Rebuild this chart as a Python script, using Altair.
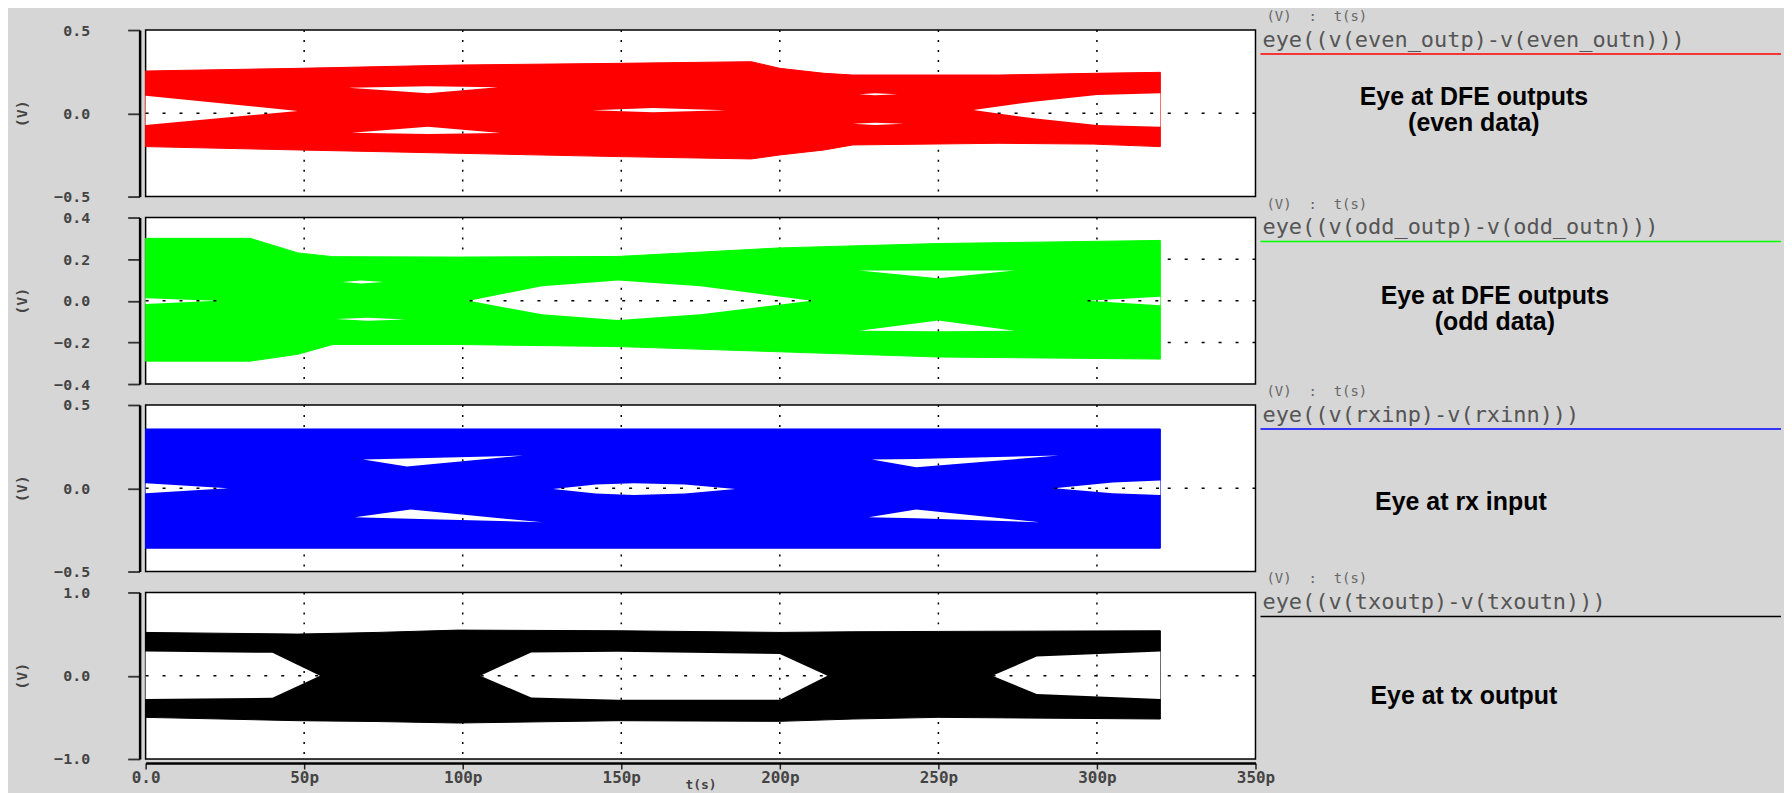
import altair as alt
import pandas as pd
import numpy as np

# ---------------- shared axis values ----------------
grid_t = [50, 100, 150, 200, 250, 300]
x_ticks = [0, 50, 100, 150, 200, 250, 300, 350]

# ---------------- panel 1 : even data (red) ----------------
p1_t = [0, 48, 98.5, 149, 191, 200, 214, 223, 269, 299, 320]
p1_hi = [0.254, 0.27, 0.29, 0.30, 0.31, 0.27, 0.24, 0.23, 0.23, 0.24, 0.246]
p1_lo = [-0.20, -0.22, -0.24, -0.26, -0.274, -0.25, -0.22, -0.19, -0.18, -0.185, -0.20]
p1_eyes = [
    ([0, 48], [0.106, 0.014], [-0.07, 0.014]),
    ([64, 89, 111], [0.154, 0.162, 0.156], [0.154, 0.12, 0.156]),
    ([65, 89, 112], [-0.116, -0.08, -0.118], [-0.116, -0.124, -0.118]),
    ([141, 160, 183], [0.018, 0.032, 0.018], [0.018, 0.006, 0.018]),
    ([225, 230, 237], [0.114, 0.12, 0.114], [0.114, 0.108, 0.114]),
    ([223, 230, 239], [-0.062, -0.056, -0.062], [-0.062, -0.07, -0.062]),
    ([261, 280, 300, 320], [0.02, 0.07, 0.11, 0.12], [0.02, -0.03, -0.07, -0.08]),
]

# ---------------- panel 2 : odd data (green) ----------------
p2_t = [0, 33, 48, 59, 98.5, 149, 200, 250, 320]
p2_hi = [0.30, 0.30, 0.23, 0.212, 0.21, 0.213, 0.254, 0.275, 0.29]
p2_lo = [-0.29, -0.29, -0.257, -0.21, -0.21, -0.22, -0.245, -0.27, -0.28]
p2_eyes = [
    ([0, 22.4], [0.012, 0.0], [-0.015, 0.0]),
    ([62, 68, 75], [0.09, 0.097, 0.09], [0.09, 0.083, 0.09]),
    ([60, 70, 82], [-0.088, -0.082, -0.09], [-0.088, -0.096, -0.09]),
    ([102, 125, 149, 175, 210], [0, 0.07, 0.097, 0.07, 0], [0, -0.065, -0.092, -0.065, 0]),
    ([225, 250, 274], [0.145, 0.146, 0.145], [0.145, 0.108, 0.145]),
    ([225, 250, 274], [-0.144, -0.095, -0.144], [-0.144, -0.146, -0.144]),
    ([297, 320], [0.0, 0.019], [0.0, -0.022]),
]

# ---------------- panel 3 : rx input (blue) ----------------
p3_t = [0, 320]
p3_hi = [0.356, 0.356]
p3_lo = [-0.36, -0.36]
p3_eyes = [
    ([0, 26], [0.03, 0.0], [-0.03, 0.0]),
    ([68.6, 82.4, 119], [0.172, 0.179, 0.196], [0.172, 0.13, 0.196]),
    ([66, 83.6, 125], [-0.174, -0.128, -0.204], [-0.174, -0.183, -0.204]),
    ([128.5, 142, 154, 170, 186], [-0.005, 0.022, 0.03, 0.022, -0.005],
     [-0.005, -0.032, -0.04, -0.032, -0.005]),
    ([229, 243, 288], [0.172, 0.176, 0.196], [0.172, 0.126, 0.196]),
    ([228, 243, 282], [-0.174, -0.128, -0.204], [-0.174, -0.18, -0.204]),
    ([286.5, 305, 320], [0.0, 0.035, 0.046], [0.0, -0.03, -0.04]),
]

# ---------------- panel 4 : tx output (black) ----------------
p4_t = [0, 48, 73, 98.5, 149, 200, 223, 250, 320]
p4_hi = [0.52, 0.50, 0.52, 0.548, 0.54, 0.52, 0.528, 0.532, 0.54]
p4_lo = [-0.50, -0.54, -0.55, -0.568, -0.54, -0.548, -0.52, -0.50, -0.52]
p4_eyes = [
    ([0, 40, 55], [0.29, 0.275, 0.0], [-0.28, -0.265, 0.0]),
    ([105.5, 121.6, 149, 200, 215], [0.0, 0.28, 0.288, 0.26, 0.0], [0.0, -0.26, -0.288, -0.288, 0.0]),
    ([267, 281, 320], [0.0, 0.23, 0.29], [0.0, -0.22, -0.28]),
]

W = 1113
H = 167
MONO = "DejaVu Sans Mono"
SANS = "Liberation Sans"
BG = "#d6d6d6"
NB = "\u00a0"

xscale = alt.Scale(domain=[0, 350], nice=False, zero=False)


def eye_frames(eyes):
    rows, hseg, vseg = [], [], []
    for k, (t, top, bot) in enumerate(eyes):
        for a, b, c in zip(t, top, bot):
            rows.append({"eye": k, "t": a, "top": b, "bot": c})
        tt = np.linspace(t[0], t[-1], 600)
        tp = np.interp(tt, t, top)
        bt = np.interp(tt, t, bot)
        inside = (tp > 0) & (bt < 0)
        if inside.any():
            hseg.append({"t1": tt[inside].min(), "t2": tt[inside].max(), "y": 0.0})
        for g in grid_t:
            if t[0] < g < t[-1]:
                y1 = float(np.interp(g, t, bot))
                y2 = float(np.interp(g, t, top))
                if y2 - y1 > 0.004:
                    vseg.append({"t": g, "y1": y1, "y2": y2})
    return pd.DataFrame(rows), pd.DataFrame(hseg, columns=["t1", "t2", "y"]), pd.DataFrame(vseg, columns=["t", "y1", "y2"])


def panel(color, bt, hi, lo, eyes, ydom, yvals, hgrid, expr, label_lines, label_x, label_y, bottom):
    ysc = alt.Scale(domain=ydom, nice=False, zero=False)
    if bottom:
        xaxis = alt.Axis(values=x_ticks, labelExpr="datum.value == 0 ? '0.0' : datum.value + 'p'",
                         labelFont=MONO, labelFontSize=16, labelFontWeight="bold", labelColor="#444",
                         labelFlush=False, domainColor="black", domainWidth=2.5, offset=4,
                         tickColor="#222", tickSize=6, tickWidth=1.5, labelPadding=1,
                         title="t(s)", titleFont=MONO, titleFontSize=13, titleFontWeight="bold",
                         titleColor="#444", titlePadding=-7, grid=False)
    else:
        xaxis = None
    yaxis = alt.Axis(values=yvals, format=".1f", labelFont=MONO, labelFontSize=15, labelFontWeight="bold",
                     labelColor="#444", labelFlush=False, labelPadding=38, domainColor="black",
                     domainWidth=2.5, offset=6, tickColor="#333", tickSize=12, tickWidth=1.8,
                     title="(V)", titleFont=MONO, titleFontSize=15, titleFontWeight="bold",
                     titleColor="#444", titleX=-110, titleY=H / 2, grid=False)

    def X(field):
        return alt.X(field, scale=xscale, axis=xaxis)

    def Y(field):
        return alt.Y(field, scale=ysc, axis=yaxis, stack=None)

    dot_v = dict(color="black", strokeDash=[2, 8], strokeWidth=1.5)
    dot_h = dict(color="black", strokeDash=[3, 14], strokeWidth=1.5)

    vgrid = alt.Chart(pd.DataFrame({"t": grid_t})).mark_rule(**dot_v).encode(x=X("t:Q"))
    hg = alt.Chart(pd.DataFrame({"v": hgrid})).mark_rule(**dot_h).encode(y=Y("v:Q"))

    band = alt.Chart(pd.DataFrame({"t": bt, "hi": hi, "lo": lo})).mark_area(
        color=color, stroke=color, strokeWidth=1, opacity=1).encode(
        x=X("t:Q"), y=Y("hi:Q"), y2="lo:Q")

    edf, hseg, vseg = eye_frames(eyes)
    eye = alt.Chart(edf).mark_area(color="white", opacity=1).encode(
        x=X("t:Q"), y=Y("top:Q"), y2="bot:Q", detail="eye:N")

    layers = [vgrid, hg, band, eye]
    if len(hseg):
        layers.append(alt.Chart(hseg).mark_rule(**dot_h).encode(
            x=X("t1:Q"), x2="t2:Q", y=Y("y:Q")))
    if len(vseg):
        layers.append(alt.Chart(vseg).mark_rule(**dot_v).encode(
            x=X("t:Q"), y=Y("y1:Q"), y2="y2:Q"))

    one = pd.DataFrame({"a": [0]})
    layers.append(alt.Chart(one).mark_text(text="(V)" + NB * 2 + ":" + NB * 2 + "t(s)", font=MONO,
                                           fontSize=14, color="#666",
                                           align="left", baseline="middle").encode(
        x=alt.value(1124), y=alt.value(-13)))
    layers.append(alt.Chart(one).mark_text(text=expr, font=MONO, fontSize=22, color="#555",
                                           align="left", baseline="middle").encode(
        x=alt.value(1120), y=alt.value(10)))
    layers.append(alt.Chart(one).mark_rule(color=color, strokeWidth=1.5).encode(
        x=alt.value(1118), x2=alt.value(1640), y=alt.value(24)))
    layers.append(alt.Chart(one).mark_text(text=label_lines, font=SANS, fontSize=25, fontWeight="bold",
                                           color="black", align="center", baseline="middle",
                                           lineHeight=26).encode(
        x=alt.value(label_x), y=alt.value(label_y)))

    return alt.layer(*layers).properties(width=W, height=H)


p1 = panel("#ff0000", p1_t, p1_hi, p1_lo, p1_eyes, [-0.5, 0.5], [-0.5, 0.0, 0.5], [0.0],
           "eye((v(even_outp)-v(even_outn)))", ["Eye at DFE outputs", "(even data)"], 1332, 67, False)
p2 = panel("#00ff00", p2_t, p2_hi, p2_lo, p2_eyes, [-0.4, 0.4], [-0.4, -0.2, 0.0, 0.2, 0.4],
           [-0.2, 0.0, 0.2], "eye((v(odd_outp)-v(odd_outn)))", ["Eye at DFE outputs", "(odd data)"],
           1353, 79, False)
p3 = panel("#0000ff", p3_t, p3_hi, p3_lo, p3_eyes, [-0.5, 0.5], [-0.5, 0.0, 0.5], [0.0],
           "eye((v(rxinp)-v(rxinn)))", ["Eye at rx input"], 1319, 97, False)
p4 = panel("#000000", p4_t, p4_hi, p4_lo, p4_eyes, [-1.0, 1.0], [-1.0, 0.0, 1.0], [0.0],
           "eye((v(txoutp)-v(txoutn)))", ["Eye at tx output"], 1322, 104, True)

chart = alt.vconcat(p1, p2, p3, p4, spacing=21, bounds="flush").resolve_scale(
    y="independent").resolve_axis(x="independent", y="independent").properties(
    padding={"left": 6, "top": 0, "right": 1, "bottom": 0}
).configure(background=BG).configure_view(fill="white", stroke="black", strokeWidth=1.5)

chart.save("out.html", embed_options={"renderer": "svg", "actions": False})
